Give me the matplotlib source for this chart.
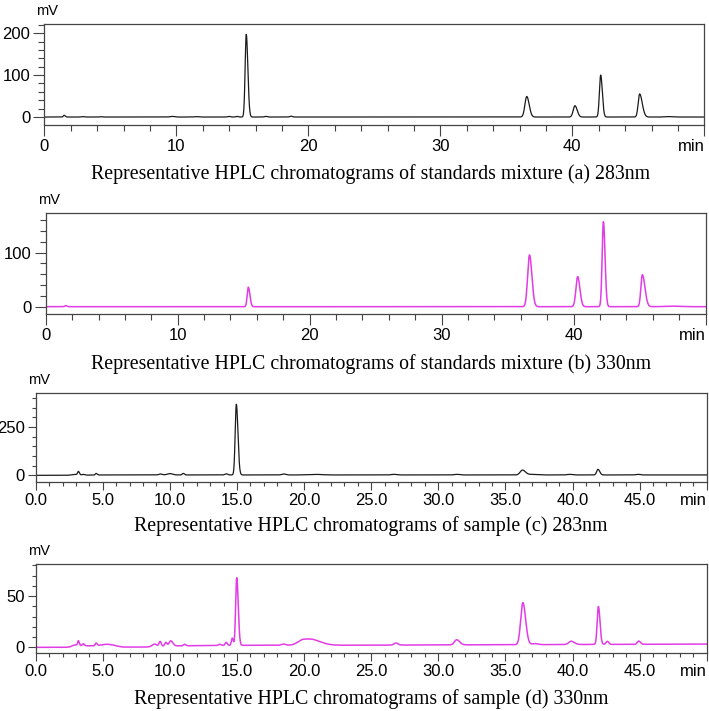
import numpy as np
import matplotlib
matplotlib.use("Agg")
import matplotlib.pyplot as plt
from matplotlib.ticker import MultipleLocator

# Peak tables: retention time (min), height (mV),
# width (sigma, min) and tailing factor (right side widening)

# (a) standards mixture, 283 nm
a_rt = [1.5, 2.9, 4.3, 9.7, 11.5, 14.0, 14.6, 15.3, 16.8, 18.7, 36.55, 40.2, 42.15, 45.1, 47.3]
a_h = [4, 1, 0.8, 1.5, 1, 1.5, 1.5, 197, 1.5, 2, 49, 27, 100, 55, 1]
a_w = [0.06, 0.1, 0.1, 0.15, 0.15, 0.1, 0.1, 0.085, 0.1, 0.1, 0.14, 0.13, 0.095, 0.11, 0.3]
a_tail = [0.5, 0, 0, 0, 0, 0, 0, 0.4, 0, 0, 0.3, 0.3, 0.3, 0.8, 0]

# (b) standards mixture, 330 nm
b_rt = [1.5, 15.35, 36.65, 40.3, 42.25, 45.2, 47.5]
b_h = [2, 36, 95.5, 55.5, 157, 59, 1]
b_w = [0.06, 0.085, 0.14, 0.13, 0.095, 0.11, 0.6]
b_tail = [0.5, 0.4, 0.3, 0.3, 0.3, 0.8, 0]

# (c) sample, 283 nm
c_rt = [2.9, 3.18, 3.55, 4.5, 9.3, 10.0, 11.0, 14.2, 14.95, 18.5, 20.8, 26.7, 31.4, 36.27, 37.0, 39.8, 41.9, 44.9]
c_h = [4, 18, 4, 8, 5, 7, 8, 6, 365, 5, 3, 3, 3, 25, 3, 3, 29, 3]
c_w = [0.25, 0.06, 0.1, 0.06, 0.12, 0.2, 0.08, 0.1, 0.085, 0.15, 0.5, 0.2, 0.2, 0.17, 0.3, 0.2, 0.1, 0.15]
c_tail = [0, 0.3, 0, 0.3, 0, 0, 0, 0, 0.4, 0, 0, 0, 0, 0.3, 0, 0, 0.3, 0]

# (d) sample, 330 nm
d_rt = [2.85, 3.18, 3.55, 4.5, 5.3, 8.85, 9.27, 9.7, 10.06, 11.1, 13.7, 14.2, 14.65, 14.98,
        18.45, 19.95, 20.8, 26.85, 31.37, 36.3, 37.2, 39.9, 41.93, 42.6, 44.93]
d_h = [1.2, 4.5, 2, 2.5, 1.5, 2, 4.5, 3.5, 5, 1.5, 1.2, 3, 7, 66,
       1.2, 5.5, 3.5, 2, 5, 41, 1, 3.2, 37, 3, 3.2]
d_w = [0.25, 0.05, 0.08, 0.06, 0.4, 0.15, 0.08, 0.08, 0.12, 0.08, 0.1, 0.08, 0.07, 0.08,
       0.15, 0.4, 0.4, 0.15, 0.17, 0.16, 0.2, 0.18, 0.09, 0.1, 0.1]
d_tail = [0, 0.3, 0, 0.3, 0, 0, 0, 0, 0.3, 0, 0, 0, 0, 0.4,
          0, 0.4, 0.6, 0, 0.3, 0.3, 0, 0.3, 0.3, 0, 0.3]
# baseline drift of (c) and (d): time knots and level (mV)
d_base_t = [0, 2.6, 3.0, 5.8, 6.5, 8.3, 8.8, 11.5, 13.5, 15.2, 24.0, 50.0]
d_base_v = [0, 0, 1.5, 1.5, 0.3, 0.3, 1.2, 1.6, 1.8, 2.0, 2.1, 3.2]
c_base_t = [0, 2.5, 5.0, 50.0]
c_base_v = [0, 0, 2.0, 2.0]

titles = [
    "Representative HPLC chromatograms of standards mixture (a) 283nm",
    "Representative HPLC chromatograms of standards mixture (b) 330nm",
    "Representative HPLC chromatograms of sample (c) 283nm",
    "Representative HPLC chromatograms of sample (d) 330nm",
]

BLACK = "#1a1a1a"
MAGENTA = "#e23ce6"
FRAME = "#444444"

t = np.linspace(0, 50, 20001)


def trace(rt, h, w, tail):
    y = np.zeros_like(t)
    for r, hh, ww, tl in zip(rt, h, w, tail):
        sig = np.where(t < r, ww, ww * (1 + tl))
        y += hh * np.exp(-0.5 * ((t - r) / sig) ** 2)
    return y


W, H = 709, 711
fig = plt.figure(figsize=(W / 100, H / 100), dpi=100)
plt.rcParams["font.family"] = ["Liberation Sans", "DejaVu Sans"]


def px_axes(left, top, right, bottom):
    return fig.add_axes([left / W, 1 - bottom / H, (right - left) / W, (bottom - top) / H])


panels = [
    dict(box=(44.3, 24.3, 704.3, 125), ylim=(-19, 221), ymaj=100, ymin=20, xmaj=10, xmin=2,
         dec=False, tl=(8, 4), y=trace(a_rt, a_h, a_w, a_tail), col=BLACK, lw=0.9, tb=179),
    dict(box=(45.7, 213, 705.7, 314), ylim=(-13.5, 173), ymaj=100, ymin=20, xmaj=10, xmin=2,
         dec=False, tl=(8, 4), y=trace(b_rt, b_h, b_w, b_tail), col=MAGENTA, lw=1.1, tb=369),
    dict(box=(35.7, 392.7, 706.7, 482.3), ylim=(-36, 427), ymaj=250, ymin=50, xmaj=5, xmin=1,
         dec=True, tl=(5.8, 3.2), y=trace(c_rt, c_h, c_w, c_tail) + np.interp(t, c_base_t, c_base_v),
         col=BLACK, lw=0.9, tb=531),
    dict(box=(35.7, 564.3, 706.7, 653.3), ylim=(-5.8, 81), ymaj=50, ymin=10, xmaj=5, xmin=1,
         dec=True, tl=(5.8, 3.2), y=trace(d_rt, d_h, d_w, d_tail) + np.interp(t, d_base_t, d_base_v),
         col=MAGENTA, lw=1.1, tb=704),
]

for p, title in zip(panels, titles):
    left, top, right, bottom = p["box"]
    ax = px_axes(left, top, right, bottom)
    ax.plot(t, p["y"], color=p["col"], lw=p["lw"])
    ax.set_xlim(0, 50)
    ax.set_ylim(*p["ylim"])

    ax.yaxis.set_major_locator(MultipleLocator(p["ymaj"]))
    ax.yaxis.set_minor_locator(MultipleLocator(p["ymin"]))
    xt = np.arange(0, 50.1, p["xmaj"])
    ax.set_xticks(xt)
    ax.xaxis.set_minor_locator(MultipleLocator(p["xmin"]))
    labels = [f"{v:.1f}" if p["dec"] else f"{v:.0f}" for v in xt]
    labels[-1] = "min"
    txts = ax.set_xticklabels(labels)
    txts[-1].set_horizontalalignment("right")

    for s in ax.spines.values():
        s.set_color(FRAME)
        s.set_linewidth(0.9)
    ax.tick_params(which="major", length=p["tl"][0], width=0.8, color=FRAME,
                   labelsize=12, pad=2)
    ax.tick_params(which="minor", length=p["tl"][1], width=0.8, color=FRAME)

    fig.text((left - 8) / W, 1 - (top - 13) / H, "mV", fontsize=10.5, ha="left", va="center")
    fig.text(371 / W, 1 - p["tb"] / H, title, fontsize=14.3, ha="center", va="baseline",
             family="Liberation Serif")

fig.savefig("out.png", dpi=100)
